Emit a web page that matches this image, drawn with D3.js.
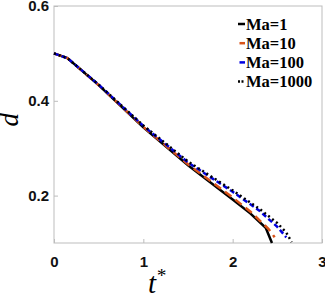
<!DOCTYPE html>
<html>
<head>
<meta charset="utf-8">
<script src="https://cdn.jsdelivr.net/npm/d3@7"></script>
<style>
  body { margin: 0; background: #fff; }
</style>
</head>
<body>
<div id="chart"></div>
<script>
// data
const seriesNames = ["Ma=1", "Ma=10", "Ma=100", "Ma=1000"]
const tMa1    = [0, 0.15, 0.5, 1, 1.5, 2, 2.2, 2.37, 2.44]
const dMa1    = [0.5, 0.49, 0.433, 0.344, 0.264, 0.192, 0.162, 0.132, 0.1]
const tMa10   = [0, 0.15, 0.5, 1, 1.5, 2, 2.2, 2.4, 2.47]
const dMa10   = [0.5, 0.49, 0.433, 0.345, 0.266, 0.196, 0.166, 0.13, 0.112]
const tMa100  = [0, 0.15, 0.5, 1, 1.5, 2, 2.3, 2.5, 2.6]
const dMa100  = [0.5, 0.49, 0.434, 0.347, 0.27, 0.208, 0.168, 0.134, 0.112]
const tMa1000 = [0, 0.15, 0.5, 1, 1.5, 2, 2.3, 2.5, 2.6, 2.66]
const dMa1000 = [0.5, 0.49, 0.434, 0.348, 0.272, 0.211, 0.172, 0.142, 0.122, 0.102]
const xTicks = [0, 1, 2, 3]
const yTicks = [0.2, 0.4, 0.6]

const series = [
    {name: seriesNames[0], t: tMa1,    d: dMa1,    color: "#000000", dash: null},
    {name: seriesNames[1], t: tMa10,   d: dMa10,   color: "#D95319", dash: "8,5"},
    {name: seriesNames[2], t: tMa100,  d: dMa100,  color: "#0000E0", dash: "5,3"},
    {name: seriesNames[3], t: tMa1000, d: dMa1000, color: "#000000", dash: "2,3"},
]

// Set dimensions
const dims = {
    width: 325,
    height: 297,
    margin: {top: 6, right: 3, bottom: 54, left: 54},
}
dims.boundedWidth = dims.width - dims.margin.left - dims.margin.right
dims.boundedHeight = dims.height - dims.margin.top - dims.margin.bottom

const xScale = d3.scaleLinear().domain([0, 3]).range([0, dims.boundedWidth])
const yScale = d3.scaleLinear().domain([0.1, 0.6]).range([dims.boundedHeight, 0])

const svg = d3.select("#chart").append("svg")
    .attr("width", dims.width)
    .attr("height", dims.height)

const bounds = svg.append("g")
    .attr("transform", `translate(${dims.margin.left},${dims.margin.top})`)

// box
bounds.append("rect")
    .attr("width", dims.boundedWidth)
    .attr("height", dims.boundedHeight)
    .attr("fill", "none")
    .attr("stroke", "#bdbdbd")
    .attr("stroke-width", 1)

const xAxis = bounds.append("g")
    .attr("transform", `translate(0,${dims.boundedHeight})`)
    .call(d3.axisBottom(xScale).tickValues(xTicks).tickSize(-4).tickPadding(13).tickFormat(d3.format("d")))
const yAxis = bounds.append("g")
    .call(d3.axisLeft(yScale).tickValues(yTicks).tickSize(-4).tickPadding(5).tickFormat(d3.format(".1f")))

bounds.selectAll(".domain").remove()
bounds.selectAll(".tick line").attr("stroke", "#bdbdbd")
bounds.selectAll(".tick text")
    .attr("fill", "#111")
    .style("font-family", "'Liberation Sans', Arial, sans-serif")
    .style("font-weight", "bold")
    .style("font-size", "15px")

// curves
const line = d3.line()
    .x(p => xScale(p[0]))
    .y(p => yScale(p[1]))

bounds.selectAll("path.curve")
    .data(series)
    .join("path")
    .attr("class", "curve")
    .attr("d", s => line(d3.zip(s.t, s.d)))
    .attr("fill", "none")
    .attr("stroke", s => s.color)
    .attr("stroke-width", 2.5)
    .attr("stroke-dasharray", s => s.dash)

// legend
const legend = svg.append("g").attr("transform", "translate(238,24)")
const items = legend.selectAll("g")
    .data(series)
    .join("g")
    .attr("transform", (s, i) => `translate(0,${i * 19.2})`)
items.append("line")
    .attr("x1", (s, i) => i == 1 || i == 2 ? 1.5 : 0)
    .attr("x2", 7)
    .attr("stroke", s => s.color)
    .attr("stroke-width", 2.5)
    .attr("stroke-dasharray", (s, i) => i == 3 ? "2,1.5" : null)
items.append("text")
    .attr("x", 8)
    .attr("dy", "0.35em")
    .style("font-family", "'Liberation Serif', 'Times New Roman', serif")
    .style("font-weight", "bold")
    .style("font-size", "16.5px")
    .text(s => s.name)

// axis labels
svg.append("text")
    .attr("x", 148)
    .attr("y", 293)
    .style("font-family", "'Liberation Serif', 'Times New Roman', serif")
    .style("font-style", "italic")
    .style("font-size", "29px")
    .text("t")
    .append("tspan")
    .attr("dy", -11)
    .style("font-size", "19px")
    .text("*")

svg.append("text")
    .attr("transform", `translate(18,${dims.margin.top + yScale(0.36)}) rotate(-90)`)
    .attr("text-anchor", "middle")
    .style("font-family", "'Liberation Serif', 'Times New Roman', serif")
    .style("font-style", "italic")
    .style("font-size", "27px")
    .text("d")
</script>
</body>
</html>
